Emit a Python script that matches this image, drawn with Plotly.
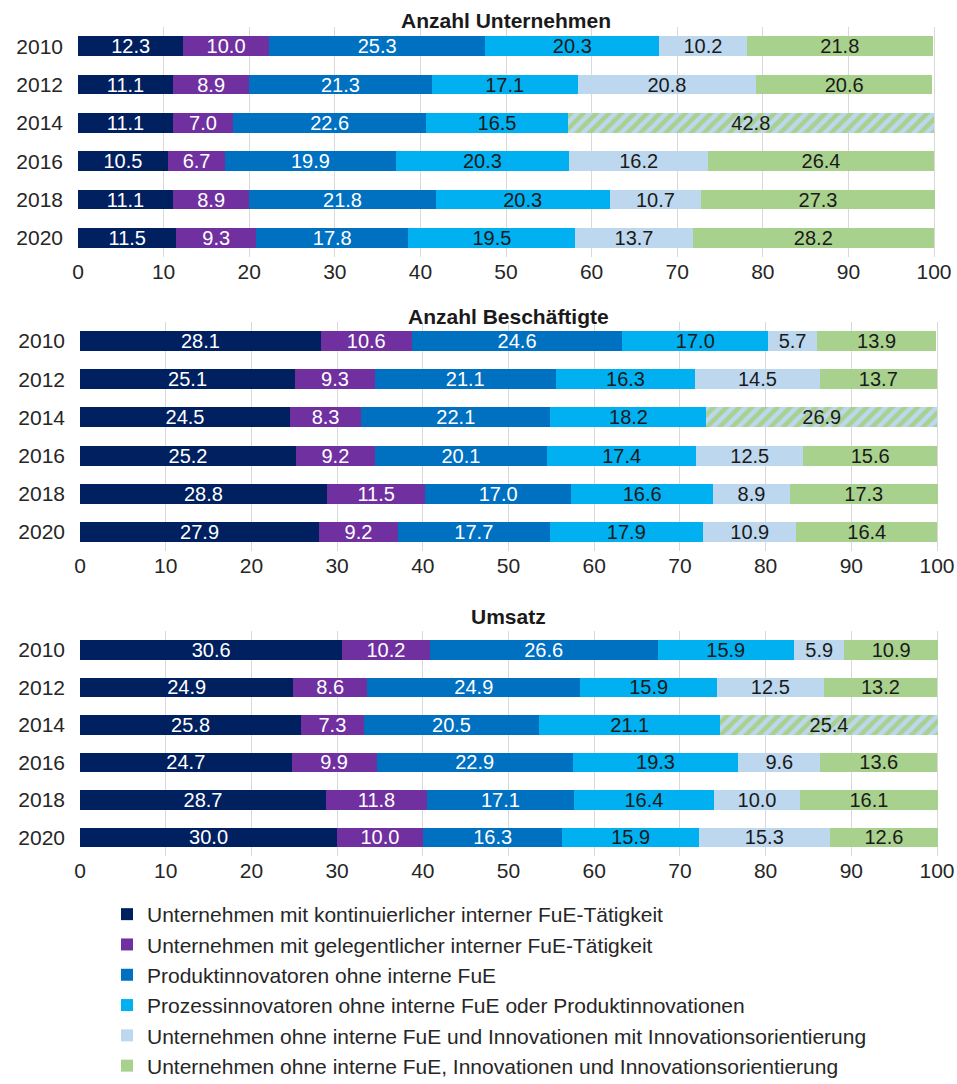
import plotly.graph_objects as go

# ---------------- data ----------------
years = ["2010", "2012", "2014", "2016", "2018", "2020"]
panel_titles = ["Anzahl Unternehmen", "Anzahl Beschäftigte", "Umsatz"]
series_names = [
    "Unternehmen mit kontinuierlicher interner FuE-Tätigkeit",
    "Unternehmen mit gelegentlicher interner FuE-Tätigkeit",
    "Produktinnovatoren ohne interne FuE",
    "Prozessinnovatoren ohne interne FuE oder Produktinnovationen",
    "Unternehmen ohne interne FuE und Innovationen mit Innovationsorientierung",
    "Unternehmen ohne interne FuE, Innovationen und Innovationsorientierung",
]

# Panel 1: Anzahl Unternehmen
unt_kont = [12.3, 11.1, 11.1, 10.5, 11.1, 11.5]
unt_gel = [10.0, 8.9, 7.0, 6.7, 8.9, 9.3]
unt_prod = [25.3, 21.3, 22.6, 19.9, 21.8, 17.8]
unt_proz = [20.3, 17.1, 16.5, 20.3, 20.3, 19.5]
unt_mit_orient = [10.2, 20.8, None, 16.2, 10.7, 13.7]
unt_ohne_orient = [21.8, 20.6, None, 26.4, 27.3, 28.2]
unt_kombiniert = [None, None, 42.8, None, None, None]

# Panel 2: Anzahl Beschäftigte
bes_kont = [28.1, 25.1, 24.5, 25.2, 28.8, 27.9]
bes_gel = [10.6, 9.3, 8.3, 9.2, 11.5, 9.2]
bes_prod = [24.6, 21.1, 22.1, 20.1, 17.0, 17.7]
bes_proz = [17.0, 16.3, 18.2, 17.4, 16.6, 17.9]
bes_mit_orient = [5.7, 14.5, None, 12.5, 8.9, 10.9]
bes_ohne_orient = [13.9, 13.7, None, 15.6, 17.3, 16.4]
bes_kombiniert = [None, None, 26.9, None, None, None]

# Panel 3: Umsatz
ums_kont = [30.6, 24.9, 25.8, 24.7, 28.7, 30.0]
ums_gel = [10.2, 8.6, 7.3, 9.9, 11.8, 10.0]
ums_prod = [26.6, 24.9, 20.5, 22.9, 17.1, 16.3]
ums_proz = [15.9, 15.9, 21.1, 19.3, 16.4, 15.9]
ums_mit_orient = [5.9, 12.5, None, 9.6, 10.0, 15.3]
ums_ohne_orient = [10.9, 13.2, None, 13.6, 16.1, 12.6]
ums_kombiniert = [None, None, 25.4, None, None, None]

x_ticks = [0, 10, 20, 30, 40, 50, 60, 70, 80, 90, 100]

# ---------------- styling ----------------
colors = ["#002060", "#7030A0", "#0070C0", "#00B0F0", "#BDD7EE", "#A9D18E"]
text_colors = ["white", "white", "white", "#1a1a1a", "#1a1a1a", "#1a1a1a"]
FONT = "Liberation Sans, Arial, sans-serif"

W, H = 957, 1084
ML, MR = 60, 10
PW = W - ML - MR
XMAX = 100.15  # small headroom so rounded totals slightly above 100 keep their labels


def fx(p):
    return (p - ML) / PW


def fy(p):
    return 1 - p / H


panel_x_px = [(78, 934), (80, 937), (80, 937)]
panel_y_px = [(27, 257), (322, 551), (631, 856)]
title_y_px = [20.5, 316, 616]

panels = [
    [unt_kont, unt_gel, unt_prod, unt_proz, unt_mit_orient, unt_ohne_orient, unt_kombiniert],
    [bes_kont, bes_gel, bes_prod, bes_proz, bes_mit_orient, bes_ohne_orient, bes_kombiniert],
    [ums_kont, ums_gel, ums_prod, ums_proz, ums_mit_orient, ums_ohne_orient, ums_kombiniert],
]

fig = go.Figure()

for pi, data in enumerate(panels):
    xa = "x" if pi == 0 else f"x{pi + 1}"
    ya = "y" if pi == 0 else f"y{pi + 1}"
    for si in range(6):
        vals = data[si]
        fig.add_trace(go.Bar(
            y=years, x=vals, orientation="h", xaxis=xa, yaxis=ya,
            name=series_names[si], legendgroup=series_names[si],
            showlegend=(pi == 0),
            marker=dict(color=colors[si], line=dict(width=0)),
            text=[f"{v:.1f}" if v is not None else "" for v in vals],
            textposition="inside", insidetextanchor="middle", textangle=0,
            textfont=dict(size=20, color=text_colors[si], family=FONT),
            constraintext="none", cliponaxis=False,
        ))
    comb = data[6]
    fig.add_trace(go.Bar(
        y=years, x=comb, orientation="h", xaxis=xa, yaxis=ya,
        showlegend=False, name="",
        marker=dict(color=colors[5], line=dict(width=0),
                    pattern=dict(shape="/", bgcolor=colors[5], fgcolor=colors[4],
                                 size=9, solidity=0.5, fillmode="replace")),
        text=[f"{v:.1f}" if v is not None else "" for v in comb],
        textposition="inside", insidetextanchor="middle", textangle=0,
        textfont=dict(size=20, color="#1a1a1a", family=FONT),
        constraintext="none", cliponaxis=False,
    ))

layout = dict(
    width=W, height=H,
    margin=dict(l=ML, r=MR, t=0, b=0, autoexpand=False),
    paper_bgcolor="white", plot_bgcolor="white",
    barmode="stack", bargap=0.48,
    font=dict(family=FONT, size=20, color="#262626"),
    uniformtext=dict(mode="show", minsize=20),
    showlegend=True,
    legend=dict(
        x=fx(107), y=fy(894), xanchor="left", yanchor="top",
        font=dict(size=21, color="#262626", family=FONT),
        traceorder="normal", bgcolor="rgba(0,0,0,0)",
        itemwidth=30,
    ),
    annotations=[],
)

for pi in range(3):
    sx = "" if pi == 0 else str(pi + 1)
    x0, x1 = panel_x_px[pi]
    y0, y1 = panel_y_px[pi]
    x1e = x0 + (x1 - x0) * XMAX / 100
    layout[f"xaxis{sx}"] = dict(
        domain=[fx(x0), fx(x1e)], anchor=f"y{sx}", range=[0, XMAX],
        tickvals=x_ticks, showgrid=True, gridcolor="#D9D9D9", gridwidth=1,
        zeroline=False, showline=False, ticks="", automargin=False,
        tickfont=dict(size=21, color="#262626", family=FONT), fixedrange=True,
    )
    layout[f"yaxis{sx}"] = dict(
        domain=[fy(y1), fy(y0)], anchor=f"x{sx}",
        categoryorder="array", categoryarray=years, autorange="reversed",
        showgrid=False, zeroline=False, showline=False, ticks="", automargin=False,
        ticklabelstandoff=14,
        tickfont=dict(size=21, color="#262626", family=FONT), fixedrange=True,
    )
    layout["annotations"].append(dict(
        text=f"<b>{panel_titles[pi]}</b>", xref="paper", yref="paper",
        x=fx((x0 + x1) / 2), y=fy(title_y_px[pi]), xanchor="center", yanchor="middle",
        showarrow=False, font=dict(size=21, color="#1a1a1a", family=FONT),
    ))

fig.update_layout(**layout)
fig.write_html(
    "out.html",
    config={"displayModeBar": False},
    post_script="document.body.style.margin='0';document.body.style.overflow='hidden';",
)
